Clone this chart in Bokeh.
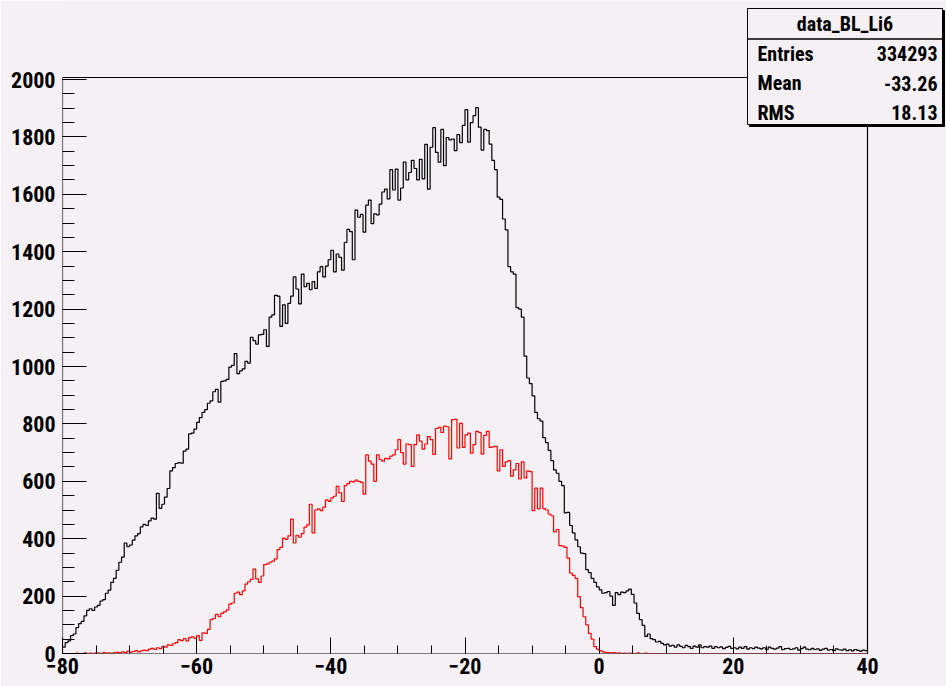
import numpy as np
from bokeh.plotting import figure
from bokeh.models import Range1d, Label, PolyAnnotation, FixedTicker
from bokeh.embed import file_html
from bokeh.resources import INLINE

# Histogram binning: 300 bins of width 0.4 between -80 and 40
x_min, x_max = -80.0, 40.0
y_top = 2007

# data_BL_Li6 counts per bin (black)
counts_bl = [
    22, 38, 44, 62, 68, 90, 104, 112, 131, 150,
    156, 150, 162, 168, 183, 188, 210, 221, 248, 262,
    290, 318, 336, 385, 372, 378, 395, 410, 418, 441,
    450, 446, 462, 472, 468, 558, 506, 520, 545, 575,
    636, 648, 662, 665, 663, 705, 712, 765, 768, 782,
    805, 822, 840, 850, 872, 880, 912, 920, 876, 948,
    950, 955, 998, 1004, 1045, 975, 985, 992, 1018, 1012,
    1102, 1090, 1078, 1110, 1112, 1128, 1070, 1172, 1180, 1248,
    1245, 1140, 1215, 1150, 1220, 1245, 1312, 1270, 1218, 1322,
    1278, 1290, 1268, 1296, 1272, 1330, 1348, 1312, 1350, 1372,
    1405, 1330, 1392, 1380, 1336, 1432, 1478, 1470, 1372, 1545,
    1520, 1530, 1468, 1562, 1580, 1498, 1532, 1528, 1566, 1608,
    1618, 1584, 1686, 1615, 1688, 1580, 1622, 1712, 1650, 1676,
    1718, 1690, 1650, 1722, 1654, 1774, 1618, 1764, 1832, 1746,
    1712, 1826, 1700, 1798, 1790, 1792, 1752, 1808, 1780, 1840,
    1895, 1782, 1850, 1874, 1902, 1834, 1754, 1826, 1822, 1775,
    1718, 1686, 1590, 1582, 1514, 1476, 1348, 1330, 1322, 1205,
    1200, 1172, 1036, 960, 940, 898, 840, 818, 810, 752,
    735, 708, 672, 640, 628, 600, 585, 490, 492, 446,
    420, 396, 372, 350, 348, 292, 282, 262, 248, 232,
    222, 210, 212, 216, 200, 168, 212, 205, 214, 212,
    218, 224, 206, 176, 140, 118, 98, 60, 68, 52,
    48, 40, 42, 35, 30, 33, 26, 28, 22, 30,
    25, 20, 28, 24, 18, 26, 22, 30, 20, 24,
    22, 26, 18, 24, 20, 23, 17, 21, 25, 18,
    20, 16, 22, 18, 24, 15, 20, 17, 22, 19,
    16, 20, 14, 22, 18, 15, 19, 24, 13, 17,
    18, 14, 16, 20, 12, 17, 22, 15, 13, 18,
    14, 16, 11, 15, 18, 12, 14, 10, 16, 13,
    12, 15, 10, 13, 9, 14, 11, 8, 12, 10,
]

# selected subsample counts per bin (red)
counts_sel = [
    0, 0, 0, 0, 0, 1, 0, 0, 2, 0,
    1, 0, 2, 1, 0, 3, 1, 2, 0, 3,
    4, 2, 6, 3, 8, 5, 7, 10, 6, 9,
    12, 10, 15, 18, 14, 20, 17, 24, 22, 30,
    28, 34, 38, 48, 45, 52, 44, 55, 58, 53,
    62, 46, 72, 70, 84, 118, 122, 136, 128, 140,
    145, 152, 172, 176, 210, 214, 205, 218, 242, 250,
    258, 294, 260, 248, 270, 310, 312, 318, 322, 330,
    362, 370, 402, 398, 410, 468, 385, 412, 405, 418,
    440, 448, 520, 420, 500, 504, 498, 510, 535, 530,
    542, 548, 582, 560, 530, 585, 592, 600, 598, 604,
    600, 596, 555, 692, 670, 660, 600, 692, 676, 670,
    680, 678, 688, 692, 710, 745, 700, 660, 730, 728,
    652, 728, 762, 740, 712, 730, 756, 745, 694, 784,
    788, 770, 792, 790, 678, 815, 816, 716, 802, 718,
    762, 768, 698, 728, 774, 770, 695, 760, 774, 718,
    720, 722, 636, 710, 652, 668, 672, 618, 640, 662,
    608, 668, 612, 636, 634, 498, 576, 504, 576, 505,
    500, 486, 480, 424, 432, 376, 374, 370, 332, 280,
    272, 262, 198, 160, 128, 100, 70, 50, 24, 15,
    10, 6, 4, 3, 2, 3, 1, 2, 0, 1,
    0, 1, 0, 0, 2, 0, 0, 1, 0, 0,
    0, 0, 0, 0, 0, 0, 0, 0, 0, 0,
    0, 0, 0, 0, 0, 0, 0, 0, 0, 0,
    0, 0, 0, 0, 0, 0, 0, 0, 0, 0,
    0, 0, 0, 0, 0, 0, 0, 0, 0, 0,
    0, 0, 0, 0, 0, 0, 0, 0, 0, 0,
    0, 0, 0, 0, 0, 0, 0, 0, 0, 0,
    0, 0, 0, 0, 0, 0, 0, 0, 0, 0,
    0, 0, 0, 0, 0, 0, 0, 0, 0, 0,
]

# axis ticks
x_major = [-80, -60, -40, -20, 0, 20, 40]
x_minor = list(range(-80, 41, 5))
y_major = [0, 200, 400, 600, 800, 1000, 1200, 1400, 1600, 1800, 2000]
y_minor = list(range(0, 2001, 50))

# statistics box contents
stats_title = "data_BL_Li6"
stats_names = ["Entries", "Mean", "RMS"]
stats_values = ["334293", "-33.26", "18.13"]

BG = "#f4f0f4"
FONT = "Liberation Sans Narrow, Roboto Condensed, Liberation Sans"

W, H = 946, 686
# histogram pad inside the canvas (pixels): left, right, top, bottom
PAD_L, PAD_R, PAD_T, PAD_B = 62, 79, 77, 33

# The drawing frame spans the canvas to the right and top so the stats box
# can sit over the pad corner; the pad frame itself is drawn as lines.
fw = W - PAD_L
fh = H - PAD_B
px_per_x = (W - PAD_L - PAD_R) / (x_max - x_min)
px_per_y = (H - PAD_T - PAD_B) / y_top
x_end = x_min + fw / px_per_x
y_end = fh / px_per_y

p = figure(width=W, height=H, output_backend="svg", toolbar_location=None,
           x_range=Range1d(x_min, x_end), y_range=Range1d(0, y_end))
p.min_border_left = PAD_L
p.min_border_right = 0
p.min_border_top = 0
p.min_border_bottom = PAD_B
p.background_fill_color = BG
p.border_fill_color = BG
p.outline_line_color = None
p.xgrid.visible = False
p.ygrid.visible = False

edges = np.linspace(x_min, x_max, len(counts_bl) + 1)
p.step(edges, list(counts_bl) + [counts_bl[-1]], mode="after",
       line_color="black", line_width=1.2)
p.step(edges, list(counts_sel) + [counts_sel[-1]], mode="after",
       line_color="#ff0000", line_width=1.2)

# pad frame
p.line([x_min, x_max, x_max, x_min, x_min], [0, 0, y_top, y_top, 0],
       line_color="black", line_width=1.2)

p.xaxis.ticker = FixedTicker(ticks=x_major, minor_ticks=x_minor)
p.yaxis.ticker = FixedTicker(ticks=y_major, minor_ticks=y_minor)
for ax in (p.xaxis[0], p.yaxis[0]):
    ax.axis_line_color = None
    ax.major_tick_line_color = "black"
    ax.minor_tick_line_color = "black"
    ax.major_tick_out = 0
    ax.minor_tick_out = 0
    ax.major_label_text_font = FONT
    ax.major_label_text_font_style = "bold"
    ax.major_label_text_font_size = "22px"
    ax.major_label_text_color = "black"
p.xaxis.major_tick_in = 16
p.xaxis.minor_tick_in = 8
p.xaxis.major_label_standoff = 4
p.yaxis.major_tick_in = 24
p.yaxis.minor_tick_in = 12
p.yaxis.major_label_standoff = 7

def dx(px):
    return x_min + (px - PAD_L) / px_per_x
def dy(py):
    return (fh - py) / px_per_y

bx0, bx1, by0, by1 = 747, 942, 8, 124
# box shadow, box, and title separator
p.add_layout(PolyAnnotation(
    xs=[dx(bx0 + 2), dx(bx1 + 2), dx(bx1 + 2), dx(bx0 + 2)],
    ys=[dy(by0 + 2), dy(by0 + 2), dy(by1 + 2), dy(by1 + 2)],
    fill_color="black", fill_alpha=1, line_color="black", line_alpha=1))
p.add_layout(PolyAnnotation(
    xs=[dx(bx0), dx(bx1), dx(bx1), dx(bx0)],
    ys=[dy(by0), dy(by0), dy(by1), dy(by1)],
    fill_color=BG, fill_alpha=1, line_color="black", line_alpha=1, line_width=1))
p.add_layout(PolyAnnotation(
    xs=[dx(bx0), dx(bx1), dx(bx1), dx(bx0)],
    ys=[dy(38), dy(38), dy(39), dy(39)],
    fill_color="black", fill_alpha=1, line_color="black", line_alpha=1, line_width=0.5))

def txt(px, py, s, align):
    p.add_layout(Label(x=dx(px), y=dy(py), text=s, text_font=FONT,
                       text_font_style="bold", text_font_size="20px",
                       text_align=align, text_baseline="middle",
                       text_color="black"))

txt((bx0 + bx1) / 2, 23, stats_title, "center")
for i, (n, v) in enumerate(zip(stats_names, stats_values)):
    row_y = 53 + 29.5 * i
    txt(757, row_y, n, "left")
    txt(937, row_y, v, "right")

open("out.html", "w").write(file_html(p, INLINE))
